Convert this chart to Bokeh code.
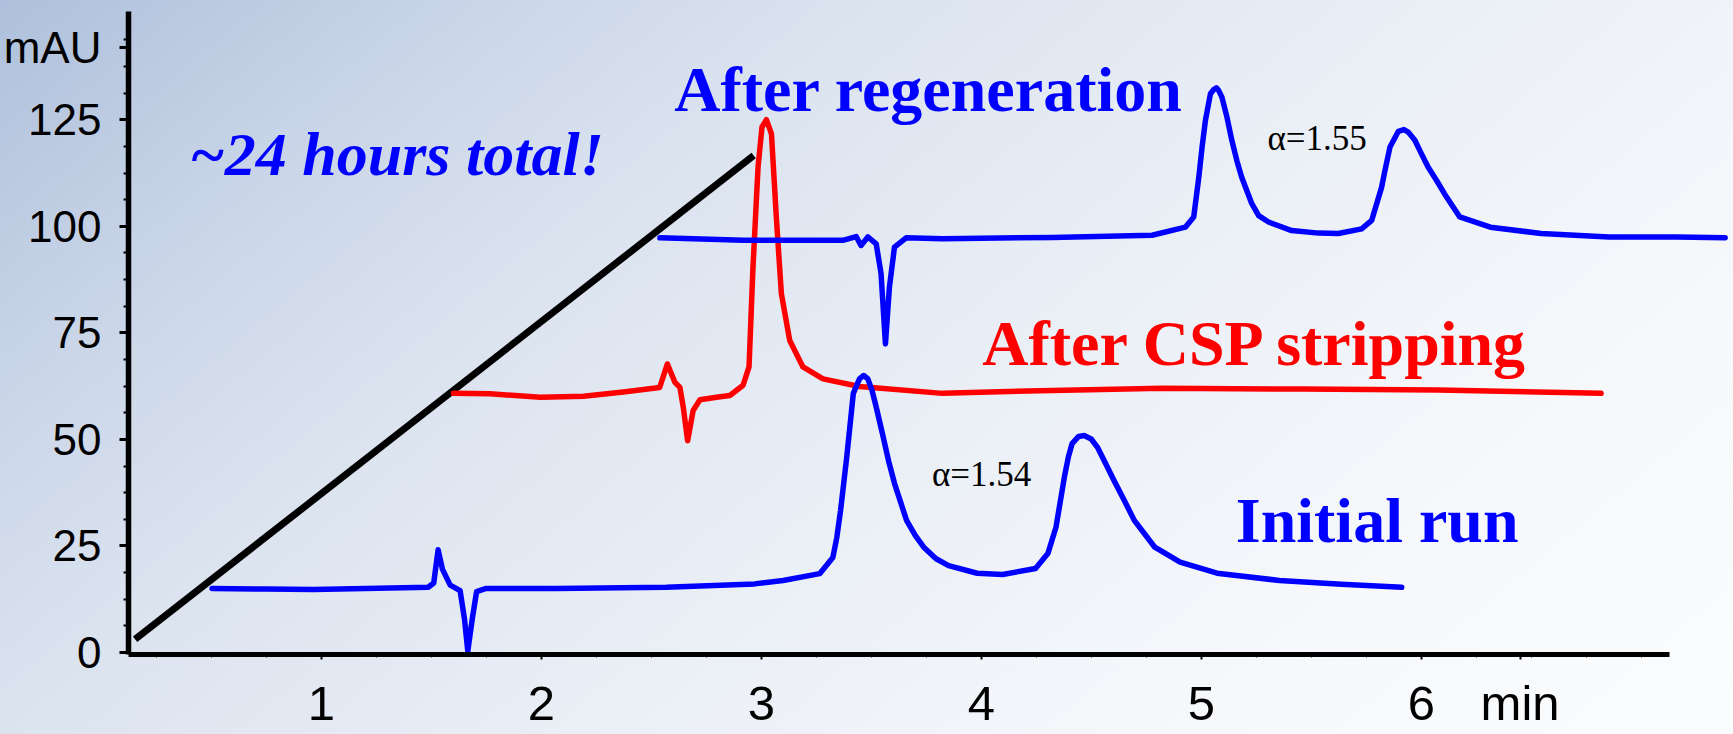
from bokeh.plotting import figure
from bokeh.models import Label, FixedTicker, Range1d
from bokeh.embed import file_html
from bokeh.resources import INLINE
import numpy as np

# ---------------- data (minutes, mAU) ----------------
x_ticks = [1, 2, 3, 4, 5, 6]
x_tick_labels = ["1", "2", "3", "4", "5", "6"]
x_unit_pos = 6.448          # where the "min" unit sits on the time axis
y_ticks = [0, 25, 50, 75, 100, 125]
y_unit_pos = 142.0          # where the "mAU" unit sits on the signal axis

initial_t = [0.504, 0.75, 0.965, 1.20, 1.486, 1.511, 1.531, 1.551, 1.586, 1.631, 1.651, 1.666,
             1.686, 1.706, 1.746, 2.067, 2.568, 2.969, 3.099, 3.265, 3.325, 3.343, 3.360, 3.388,
             3.418, 3.446, 3.465, 3.484, 3.503, 3.522, 3.550, 3.578, 3.605, 3.660, 3.700, 3.738,
             3.794, 3.851, 3.981, 4.096, 4.246, 4.302, 4.339, 4.377, 4.395, 4.412, 4.442, 4.467,
             4.499, 4.527, 4.565, 4.602, 4.649, 4.695, 4.788, 4.903, 5.071, 5.354, 5.636, 5.910]
initial_mau = [15.0, 14.9, 14.8, 15.0, 15.3, 16.3, 24.1, 19.5, 15.8, 14.5, 7.8, 0.3,
               7.8, 14.3, 15.0, 15.0, 15.3, 16.1, 16.9, 18.5, 22.3, 27.0, 33.3, 45.8,
               60.8, 64.2, 65.0, 64.2, 61.5, 57.6, 51.4, 45.0, 39.7, 31.0, 27.4, 24.7,
               22.0, 20.4, 18.6, 18.3, 19.7, 23.2, 29.4, 41.1, 45.8, 49.0, 50.7, 50.9,
               50.1, 48.2, 44.3, 40.4, 35.7, 31.0, 24.7, 21.2, 18.6, 16.9, 16.0, 15.3]

stripped_t = [1.601, 1.766, 1.996, 2.192, 2.373, 2.538, 2.573, 2.607, 2.630, 2.645, 2.665, 2.690,
              2.721, 2.796, 2.857, 2.917, 2.944, 2.962, 2.985, 3.003, 3.023, 3.046, 3.068, 3.091,
              3.129, 3.189, 3.280, 3.446, 3.824, 4.322, 4.823, 5.454, 6.075, 6.816]
stripped_mau = [60.8, 60.7, 59.9, 60.1, 61.1, 62.2, 67.7, 63.4, 62.2, 57.6, 49.7, 56.8,
                59.3, 59.9, 60.3, 62.7, 67.0, 90.4, 113.9, 123.3, 125.0, 121.7, 102.2, 84.2,
                73.2, 67.0, 64.2, 62.4, 60.8, 61.5, 62.0, 61.8, 61.6, 60.8]

regen_t = [2.539, 2.917, 3.370, 3.431, 3.453, 3.484, 3.522, 3.544, 3.564, 3.582, 3.605, 3.658,
           3.824, 4.322, 4.776, 4.927, 4.965, 4.988, 5.003, 5.018, 5.041, 5.056, 5.068, 5.078,
           5.093, 5.116, 5.138, 5.161, 5.183, 5.229, 5.260, 5.305, 5.410, 5.532, 5.622, 5.728,
           5.774, 5.819, 5.834, 5.857, 5.895, 5.920, 5.940, 5.970, 6.000, 6.030, 6.068, 6.105,
           6.174, 6.313, 6.544, 6.852, 7.160, 7.380]
regen_mau = [97.3, 96.7, 96.7, 97.6, 95.5, 97.5, 95.9, 88.9, 72.4, 85.7, 95.1, 97.3,
             97.1, 97.4, 97.9, 99.8, 102.2, 111.5, 118.6, 124.8, 131.1, 132.1, 132.5, 131.9,
             130.3, 125.6, 120.2, 115.4, 111.5, 105.3, 102.5, 101.0, 99.0, 98.4, 98.3, 99.4,
             101.4, 109.2, 113.1, 118.6, 122.3, 122.7, 122.1, 120.2, 117.0, 113.9, 110.8, 107.6,
             102.2, 99.8, 98.3, 97.5, 97.5, 97.3]

time_line_t = [0.154, 2.965]
time_line_mau = [3.1, 116.6]

# ---------------- figure ----------------
p = figure(width=1733, height=734, output_backend="svg", toolbar_location=None,
           x_range=Range1d(0.124, 7.418), y_range=Range1d(-0.47, 150.4),
           min_border_left=124, min_border_right=0, min_border_top=11, min_border_bottom=80)
p.border_fill_color = None
p.background_fill_color = None
p.outline_line_color = None
p.grid.visible = False
p.styles = {"background": "linear-gradient(140deg, #aec0db 0%, #c8d4e7 17%, #dbe3ef 33%, "
                          "#eaeff6 55%, #f6f8fb 79%, #fbfcfd 100%)"}

BLUE = "#0000ff"
RED = "#ff0000"

# axes
xa = p.xaxis[0]
xa.ticker = FixedTicker(ticks=x_ticks + [x_unit_pos],
                        minor_ticks=list(np.arange(0.25, 7.2, 0.25)))
xa.major_label_overrides = {**{float(t): s for t, s in zip(x_ticks, x_tick_labels)},
                            x_unit_pos: "min"}
xa.bounds = (0.124, 7.125)
xa.axis_line_width = 5
xa.axis_line_color = "black"
xa.major_tick_in = 0
xa.major_tick_out = 5
xa.minor_tick_in = 0
xa.minor_tick_out = 3
xa.major_tick_line_width = 2
xa.major_label_standoff = 16
xa.major_label_text_font = "Liberation Sans"
xa.major_label_text_font_size = "49px"
xa.major_label_text_color = "black"

ya = p.yaxis[0]
ya.ticker = FixedTicker(ticks=y_ticks + [y_unit_pos],
                        minor_ticks=list(np.arange(0, 150, 6.25)))
ya.major_label_overrides = {y_unit_pos: "mAU"}
ya.axis_line_width = 5.5
ya.axis_line_color = "black"
ya.major_tick_in = 0
ya.major_tick_out = 9
ya.minor_tick_in = 0
ya.minor_tick_out = 5
ya.major_tick_line_width = 3
ya.minor_tick_line_width = 2
ya.major_label_standoff = 18
ya.major_label_text_font = "Liberation Sans"
ya.major_label_text_font_size = "44px"
ya.major_label_text_color = "black"

# traces
p.line(time_line_t, time_line_mau, line_color="black", line_width=7)
p.line(stripped_t, stripped_mau, line_color=RED, line_width=5.5, line_join="round",
       line_cap="round")
p.line(initial_t, initial_mau, line_color=BLUE, line_width=5.5, line_join="round",
       line_cap="round")
p.line(regen_t, regen_mau, line_color=BLUE, line_width=5.5, line_join="round",
       line_cap="round")

# annotations
def lab(x, y, text, color, size, style="bold", font="Liberation Serif", align="left"):
    p.add_layout(Label(x=x, y=y, text=text, text_color=color, text_font=font,
                       text_font_size=size, text_font_style=style, text_align=align,
                       text_baseline="alphabetic"))

lab(2.604, 132.1, "After regeneration", BLUE, "64px")
lab(4.004, 72.6, "After CSP stripping", RED, "64px")
lab(5.156, 30.9, "Initial run", BLUE, "64px")
lab(0.401, 117.0, "~24 hours total!", BLUE, "62px", style="bold italic")
lab(3.775, 41.8, "\u03b1=1.54", "black", "35px", style="normal")
lab(5.300, 120.7, "\u03b1=1.55", "black", "35px", style="normal")

open("out.html", "w").write(file_html(p, INLINE))
